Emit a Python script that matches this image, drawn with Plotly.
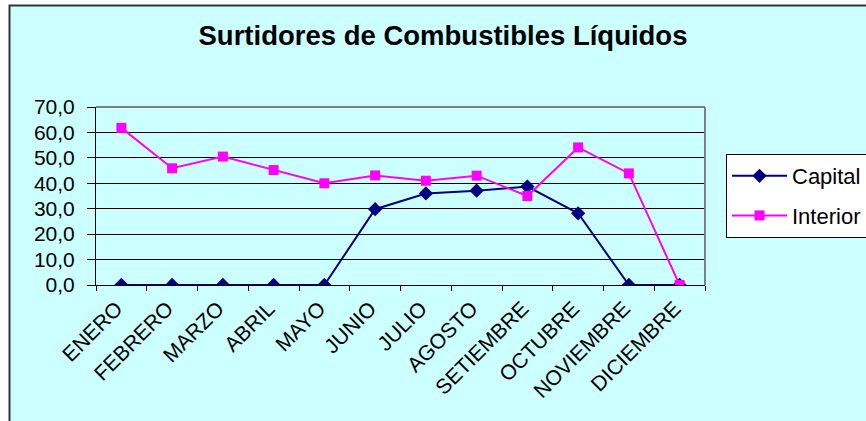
import plotly.graph_objects as go

months = ["ENERO", "FEBRERO", "MARZO", "ABRIL", "MAYO", "JUNIO", "JULIO",
          "AGOSTO", "SETIEMBRE", "OCTUBRE", "NOVIEMBRE", "DICIEMBRE"]
capital = [0, 0, 0, 0, 0, 29.8, 36.0, 37.1, 38.7, 28.2, 0, 0]
interior = [61.8, 45.9, 50.5, 45.2, 40.0, 43.1, 41.0, 43.0, 35.0, 54.1, 43.9, 0]
y_ticks = [0, 10, 20, 30, 40, 50, 60, 70]
y_tick_labels = ["0,0", "10,0", "20,0", "30,0", "40,0", "50,0", "60,0", "70,0"]

FONT = "Liberation Sans, Arial, sans-serif"

fig = go.Figure()
fig.add_trace(go.Scatter(
    x=months, y=capital, name="Capital", mode="lines+markers", legendgroup="c",
    line=dict(color="#000080", width=2),
    marker=dict(symbol="diamond", size=11, color="#000080"),
))
fig.add_trace(go.Scatter(
    x=months, y=interior, name="Interior", mode="lines+markers", legendgroup="i",
    line=dict(color="#FF00FF", width=2),
    marker=dict(symbol="square", size=10, color="#FF00FF"),
))

W, H = 866, 421
L, T = 96, 107
pw, ph = 609, 178
R, B = W - L - pw, H - T - ph

def px_x(p):
    return (p - L) / pw

def px_y(p):
    return (T + ph - p) / ph

# outer chart area (cyan with dark border)
fig.add_shape(type="rect", xref="paper", yref="paper",
              x0=px_x(9.5), x1=px_x(900), y0=px_y(5.5), y1=px_y(450),
              fillcolor="#CCFFFF", line=dict(color="#333333", width=2), layer="below")

fig.update_layout(
    width=W, height=H,
    margin=dict(l=L, r=R, t=T, b=B, pad=0, autoexpand=False),
    paper_bgcolor="white",
    plot_bgcolor="#FFFFCC",
    font=dict(family=FONT, size=20, color="black"),
    title=dict(text="<b>Surtidores de Combustibles Líquidos</b>",
               x=px_x(443), xref="paper", xanchor="center",
               y=1 - 35 / H, yanchor="middle",
               font=dict(family=FONT, size=27.5, color="black")),
    showlegend=True,
    legend=dict(x=px_x(726), y=px_y(154), xanchor="left", yanchor="top",
                bgcolor="white", bordercolor="black", borderwidth=1,
                font=dict(family=FONT, size=22, color="black"),
                traceorder="grouped", tracegroupgap=8, itemwidth=55),
)
fig.update_xaxes(
    type="category", range=[-0.5, 11.5], tickangle=-45, ticks="outside",
    tickson="boundaries", ticklen=5, tickcolor="black",
    showline=True, linecolor="black", linewidth=1,
    mirror=False, showgrid=False, tickfont=dict(size=21),
    ticklabelshift=-5, ticklabelstandoff=2,
)
fig.update_yaxes(
    range=[0, 70], tickvals=y_ticks, ticktext=y_tick_labels,
    ticks="outside", ticklen=8, tickcolor="black",
    showline=True, linecolor="black", linewidth=1,
    showgrid=True, gridcolor="black", gridwidth=1, zeroline=False,
    tickfont=dict(size=21), ticklabelstandoff=8,
)
# gray border on top and right of plot area
fig.add_shape(type="line", xref="paper", yref="paper", x0=0, x1=1, y0=1, y1=1,
              line=dict(color="#808080", width=2))
fig.add_shape(type="line", xref="paper", yref="paper", x0=1, x1=1, y0=0, y1=1,
              line=dict(color="#808080", width=2))

fig.write_html("out.html",
               config={"displayModeBar": False},
               post_script="document.body.style.margin='0';"
                           "document.body.style.overflow='hidden';")
